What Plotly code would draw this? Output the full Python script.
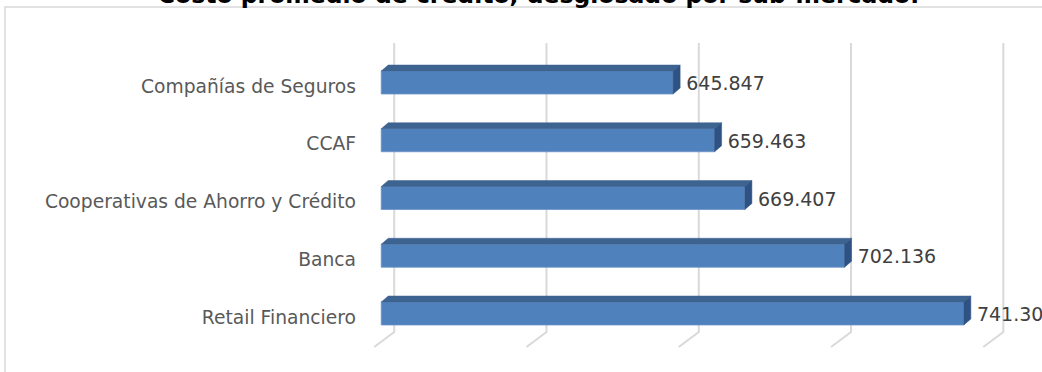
import plotly.graph_objects as go

# ---- data ----
categories = ["Retail Financiero", "Banca", "Cooperativas de Ahorro y Crédito", "CCAF", "Compañías de Seguros"]
values = [741.301, 702.136, 669.407, 659.463, 645.847]
value_labels = ["741.301", "702.136", "669.407", "659.463", "645.847"]
grid_values = [550, 600, 650, 700, 750]
title_text = "Costo promedio de crédito, desglosado por sub-mercado."

# ---- style / geometry constants ----
W, H = 1042, 372
L, R, T, B = 366, 6, 40, 22
XMIN, XMAX = 545, 765
YMIN, YMAX = -0.632, 4.736
BASE = 550
HALF = 0.199          # half height of bar front face (category units)
DX, DY = 2.3, 0.104   # 3-D depth offset (value units, category units)
FRONT = "#4f81bd"
TOP = "#3d6390"
SIDE = "#2e5283"
GRID = "#d9d9d9"

ypos = list(range(len(categories)))

fig = go.Figure()

# gridlines (back wall + floor diagonals), drawn beneath the bars
GX_BACK, GX_FRONT = 4.27, -2.3
G_TOP, G_BACK, G_FRONT = 4.683, -0.320, -0.580
for g in grid_values:
    fig.add_shape(
        type="path", xref="x", yref="y", layer="below",
        path=f"M {g + GX_BACK},{G_TOP} L {g + GX_BACK},{G_BACK} L {g + GX_FRONT},{G_FRONT}",
        line=dict(color=GRID, width=2))

# front faces
fig.add_trace(go.Bar(
    y=ypos, x=[v - BASE for v in values], base=BASE, orientation="h",
    width=2 * HALF, marker=dict(color=FRONT, line=dict(color="#6d93c6", width=0.8)),
    showlegend=False, hoverinfo="skip"))

# top and side faces
for yc, v in zip(ypos, values):
    yt, yb = yc + HALF, yc - HALF
    fig.add_trace(go.Scatter(
        x=[BASE, BASE + DX, v + DX, v, BASE],
        y=[yt, yt + DY, yt + DY, yt, yt],
        fill="toself", fillcolor=TOP, mode="lines", line=dict(color=TOP, width=0.5),
        hoverinfo="skip", showlegend=False))
    fig.add_trace(go.Scatter(
        x=[v, v + DX, v + DX, v, v],
        y=[yt, yt + DY, yb + DY, yb, yt],
        fill="toself", fillcolor=SIDE, mode="lines", line=dict(color=SIDE, width=0.5),
        hoverinfo="skip", showlegend=False))

# value labels
fig.add_trace(go.Scatter(
    x=[v + DX + 2.0 for v in values], y=[y - 0.05 for y in ypos], text=value_labels,
    mode="text", textposition="middle right",
    textfont=dict(family="DejaVu Sans", size=19, color="#404040"),
    cliponaxis=False, hoverinfo="skip", showlegend=False))

# chart border (only its left and top edges fall inside the view)
px = lambda p: (p - L) / (W - L - R)
py = lambda p: (H - B - p) / (H - T - B)
fig.add_shape(type="rect", xref="paper", yref="paper",
              x0=px(5), x1=px(1100), y0=py(420), y1=py(7),
              line=dict(color=GRID, width=1.5), layer="below")

fig.update_layout(
    width=W, height=H,
    margin=dict(l=L, r=R, t=T, b=B),
    paper_bgcolor="white", plot_bgcolor="white",
    barmode="overlay",
    title=dict(text="<b>" + title_text + "</b>", x=538.5 / W, xanchor="center",
               yref="container", y=1 - 3 / H, yanchor="bottom",
               font=dict(family="DejaVu Sans", size=23.5, color="#000000")),
    xaxis=dict(range=[XMIN, XMAX], showgrid=False, zeroline=False,
               showticklabels=False, showline=False, fixedrange=True),
    yaxis=dict(range=[YMIN, YMAX], tickvals=[y - 0.06 for y in ypos], ticktext=categories,
               showgrid=False, zeroline=False, showline=False,
               ticklabelstandoff=9, fixedrange=True,
               tickfont=dict(family="DejaVu Sans", size=18.7, color="#595959")),
)

fig.write_html("out.html", config={"displayModeBar": False},
               post_script="document.body.style.margin='0px';")
